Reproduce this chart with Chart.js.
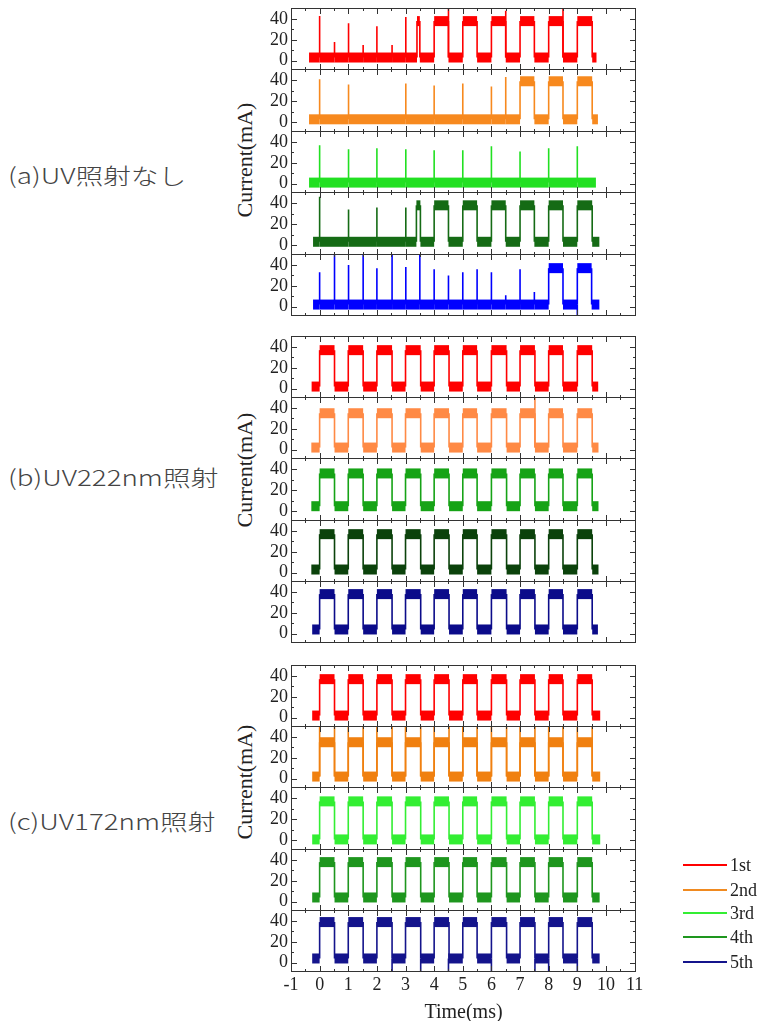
<!DOCTYPE html>
<html>
<head>
<meta charset="utf-8">
<script src="https://cdn.jsdelivr.net/npm/chart.js@4.4.1/dist/chart.umd.min.js"></script>
<style>
body { margin: 0; background: #fff; }
#page { position: relative; width: 762px; height: 1021px; overflow: hidden; background: #fff; }
#page canvas { position: absolute; }
.group { position: absolute; left: 8px; font-family: "Noto Sans CJK JP"; font-weight: 300; font-size: 22px; color: #444;
  white-space: nowrap; transform-origin: left center; transform: translateY(-50%) scaleX(1.26); }
.ytitle { position: absolute; left: 245px; font-family: "Liberation Serif"; font-size: 22px; color: #222;
  white-space: nowrap; transform: translate(-50%, -50%) rotate(-90deg); }
.leg { position: absolute; left: 683px; height: 20px; font-family: "Liberation Serif"; font-size: 18px; color: #222; }
.leg span { position: absolute; left: 0; top: 9px; width: 44px; height: 2px; }
.leg b { position: absolute; left: 47px; top: 0; font-weight: normal; line-height: 20px; }
</style>
</head>
<body>
<div id="page"></div>
<script>
// axis ticks
const xTicks = [-1, 0, 1, 2, 3, 4, 5, 6, 7, 8, 9, 10, 11];
const xMinor = [-0.5, 0.5, 1.5, 2.5, 3.5, 4.5, 5.5, 6.5, 7.5, 8.5, 9.5, 10.5];
const yTicks = [0, 20, 40];
const yMinor = [10, 30];
const runs = ['1st', '2nd', '3rd', '4th', '5th'];
const groupNames = ['(a)UV照射なし', '(b)UV222nm照射', '(c)UV172nm照射'];

// (a) no UV: start/end time (ms), low/high level (mA), pulses [rise, fall], spikes [time, peak]
const aStart = [-0.37, -0.37, -0.37, -0.23, -0.23];
const aEnd = [9.67, 9.72, 9.65, 9.77, 9.77];
const aLow = [3, 3, 1, 3.5, 2];
const aHigh = [38, 39, 38, 38, 37];
const aPulses = [
  [[3.4, 3.5], [4, 4.5], [5, 5.5], [6, 6.5], [7, 7.5], [8, 8.5], [9, 9.52]],
  [[7, 7.5], [8, 8.5], [9, 9.52]],
  [],
  [[3.38, 3.52], [4, 4.5], [5, 5.5], [6, 6.5], [7, 7.5], [8, 8.5], [9, 9.52]],
  [[8, 8.5], [9, 9.5]]
];
const aSpikes = [
  [[0, 43], [0.52, 18], [1.01, 36], [1.52, 15], [2, 33], [2.53, 15], [3.01, 42], [4.5, 50], [6.5, 48], [8.5, 50]],
  [[0, 41], [1.01, 36], [3.01, 37], [4, 35], [5, 37], [6, 34], [6.5, 43]],
  [[0, 37], [1.01, 33], [2, 34], [3.01, 33], [4, 32], [5, 32], [6, 36], [7, 31], [8, 34], [9, 36]],
  [[0, 46], [1.01, 34], [2, 36], [3.01, 36]],
  [[0, 33], [0.52, 52], [1.01, 40], [1.52, 52], [2, 37], [2.53, 52], [3.01, 38], [3.5, 52], [4, 36], [4.5, 30],
   [5, 33], [5.5, 36], [6, 33], [6.5, 11], [7, 36], [7.5, 14], [9, -10]]
];

// (b) UV 222nm
const bStart = [-0.28, -0.29, -0.29, -0.29, -0.26];
const bEnd = [9.73, 9.74, 9.74, 9.74, 9.72];
const bLow = [2, 2, 5, 3, 4];
const bHigh = [37, 35, 36, 37, 38];
const bPulses = [[0, 0.52], [1, 1.52], [2, 2.53], [3, 3.53], [4, 4.52], [5, 5.5], [6, 6.53], [7, 7.52], [8, 8.5], [9, 9.52]];
const bSpikes = [[], [[7.52, 50]], [], [], []];

// (c) UV 172nm
const cStart = [-0.26, -0.26, -0.26, -0.26, -0.26];
const cEnd = [9.8, 9.8, 9.8, 9.78, 9.78];
const cLow = [2, 2, 1, 4, 4];
const cHigh = [37, 35, 37, 38, 39];
const cPulses = [[0, 0.52], [1, 1.52], [2, 2.53], [3, 3.53], [4, 4.52], [5, 5.5], [6, 6.53], [7, 7.52], [8, 8.5], [9, 9.52]];
const cSpikes = [
  [],
  [[0, 50], [0.52, 50], [1, 50], [1.52, 50], [2, 50], [2.53, 50], [3, 50], [3.53, 50], [4, 50], [4.52, 50],
   [5, 50], [5.5, 50], [6, 50], [6.53, 50], [7, 50], [7.52, 50], [8, 50], [8.5, 50], [9, 50], [9.52, 50]],
  [],
  [],
  [[2.53, -10], [3.53, -10], [4.5, -10], [6, -10], [7.52, -10], [8, -10], [9, -10]]
];

const colors = [
  ['#ff0000', '#f7891e', '#22e022', '#156b15', '#0000ff'],
  ['#ff0000', '#ff8a45', '#16a316', '#0b420b', '#0b0b8a'],
  ['#ff0000', '#f08010', '#33ee33', '#1e961e', '#14148c']
];
const legendColors = ['#ff0000', '#f08a20', '#33ee33', '#1e961e', '#14148c'];

const groups = [
  { start: aStart, end: aEnd, low: aLow, high: aHigh, pulses: aPulses, spikes: aSpikes, top: 8, bottom: 315, label: 174, title: 160 },
  { start: bStart, end: bEnd, low: bLow, high: bHigh, pulses: runs.map(() => bPulses), spikes: bSpikes, top: 336, bottom: 642, label: 476, title: 470 },
  { start: cStart, end: cEnd, low: cLow, high: cHigh, pulses: runs.map(() => cPulses), spikes: cSpikes, top: 665, bottom: 971, label: 820, title: 782 }
];

function buildPoints(start, end, low, high, pulses, spikes) {
  const ev = [];
  spikes.forEach(([t, p]) => ev.push({ t, k: 0, pts: [[t, low], [t, p], [t, low]] }));
  pulses.forEach(([r, f]) => ev.push({ t: r, k: 1, pts: [[r, low], [r, high], [f, high], [f, low]] }));
  ev.sort((a, b) => a.t - b.t || a.k - b.k);
  const pts = [{ x: start, y: low }];
  ev.forEach(e => e.pts.forEach(([x, y]) => pts.push({ x, y })));
  pts.push({ x: end, y: low });
  return pts;
}

// frame box with inward ticks on all four sides
const frameTicks = {
  id: 'frameTicks',
  afterDraw(chart) {
    const { ctx, chartArea: a, scales: { x, y } } = chart;
    ctx.save();
    ctx.strokeStyle = '#333';
    ctx.lineWidth = 1;
    ctx.strokeRect(a.left + 0.5, a.top + 0.5, a.right - a.left - 1, a.bottom - a.top - 1);
    ctx.beginPath();
    const xt = (vals, len) => vals.forEach(v => {
      const px = Math.round(x.getPixelForValue(v)) + 0.5;
      if (px < a.left + 2 || px > a.right - 2) return;
      ctx.moveTo(px, a.top); ctx.lineTo(px, a.top + len);
      ctx.moveTo(px, a.bottom); ctx.lineTo(px, a.bottom - len);
    });
    const yt = (vals, len) => vals.forEach(v => {
      const py = Math.round(y.getPixelForValue(v)) + 0.5;
      ctx.moveTo(a.left, py); ctx.lineTo(a.left + len, py);
      ctx.moveTo(a.right, py); ctx.lineTo(a.right - len, py);
    });
    xt(xTicks, 6); xt(xMinor, 3);
    yt(yTicks, 6); yt(yMinor, 3);
    ctx.stroke();
    ctx.restore();
  }
};

const page = document.getElementById('page');
const serif = 'Liberation Serif';

groups.forEach((g, gi) => {
  const lbl = document.createElement('div');
  lbl.className = 'group';
  lbl.style.top = g.label + 'px';
  lbl.textContent = groupNames[gi];
  page.appendChild(lbl);

  const yt = document.createElement('div');
  yt.className = 'ytitle';
  yt.style.top = g.title + 'px';
  yt.textContent = 'Current(mA)';
  page.appendChild(yt);

  const ph = (g.bottom - g.top) / 5;
  runs.forEach((run, i) => {
    const top = Math.round(g.top + i * ph);
    const bot = Math.round(g.top + (i + 1) * ph);
    const last = gi === 2 && i === 4;
    const extra = last ? 53 : 0;
    const cv = document.createElement('canvas');
    cv.width = 424;
    cv.height = bot - top + 1 + extra;
    cv.style.left = '236px';
    cv.style.top = top + 'px';
    page.appendChild(cv);

    new Chart(cv.getContext('2d'), {
      type: 'line',
      data: {
        datasets: [{
          label: run,
          data: buildPoints(g.start[i], g.end[i], g.low[i], g.high[i], g.pulses[i], g.spikes[i]),
          borderColor: colors[gi][i],
          borderWidth: 1.5,
          pointRadius: 0,
          segment: {
            borderWidth: c => c.p0.parsed.y === c.p1.parsed.y ? 10 : 1.6
          }
        }]
      },
      options: {
        responsive: false,
        animation: false,
        layout: { padding: { left: 0, right: 24, top: 0, bottom: 0 } },
        plugins: { legend: { display: false }, tooltip: { enabled: false } },
        scales: {
          x: {
            type: 'linear',
            min: -1,
            max: 11.05,
            display: last,
            grid: { display: false, drawTicks: false },
            border: { display: false },
            ticks: { font: { family: serif, size: 18 }, color: '#222', padding: 2, maxRotation: 0, autoSkip: false },
            title: { display: true, text: 'Time(ms)', font: { family: serif, size: 20 }, color: '#222', padding: 0 },
            afterBuildTicks: s => { s.ticks = xTicks.map(v => ({ value: v })); },
            afterFit: s => { s.height = extra; s.paddingLeft = 0; s.paddingRight = 0; }
          },
          y: {
            min: -9,
            max: 50.6,
            grid: { display: false, drawTicks: false },
            border: { display: false },
            ticks: { font: { family: serif, size: 18 }, color: '#222', padding: 3, autoSkip: false },
            afterBuildTicks: s => { s.ticks = yTicks.map(v => ({ value: v })); },
            afterFit: s => { s.width = 55; s.paddingTop = 0; s.paddingBottom = 0; }
          }
        }
      },
      plugins: [frameTicks]
    });
  });
});

// legend
const legY = [865, 890, 913, 937, 962];
runs.forEach((run, i) => {
  const row = document.createElement('div');
  row.className = 'leg';
  row.style.top = (legY[i] - 10) + 'px';
  row.innerHTML = '<span style="background:' + legendColors[i] + '"></span><b>' + run + '</b>';
  page.appendChild(row);
});
</script>
</body>
</html>
